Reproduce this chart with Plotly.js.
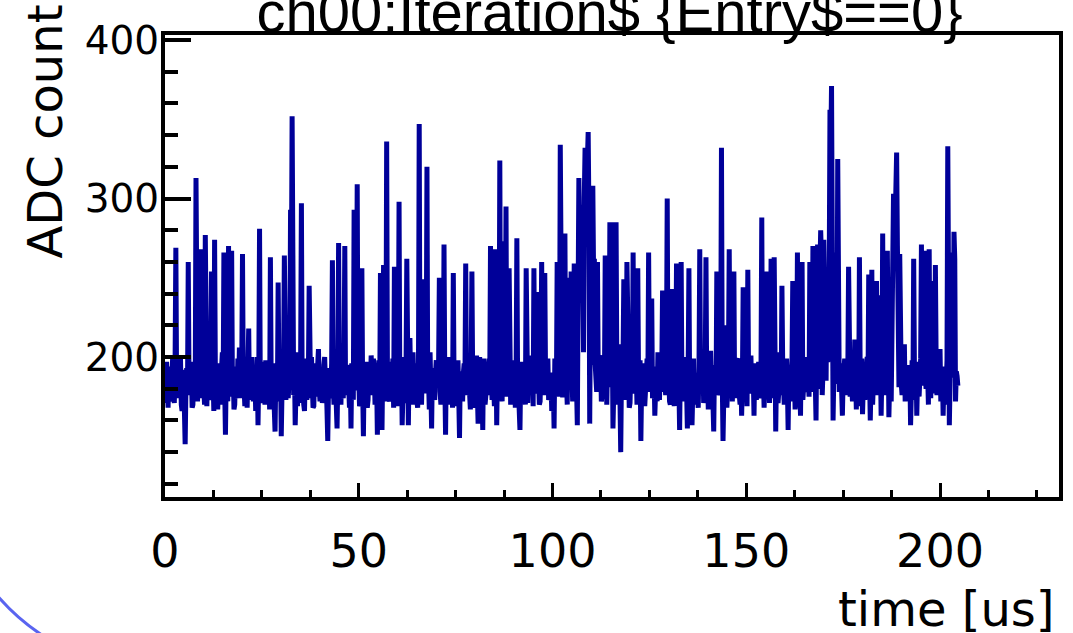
<!DOCTYPE html>
<html>
<head>
<meta charset="utf-8">
<script src="https://cdn.plot.ly/plotly-3.0.1.min.js"></script>
<style>
  html, body { margin: 0; padding: 0; background: #ffffff; }
  #plot { width: 1073px; height: 633px; }
</style>
</head>
<body>
<div id="plot"></div>
<script>
// Waveform of channel ch00, first entry: 1024 ADC samples, one every 0.2 us
var sampleStart = 0;      // us
var sampleStep = 0.2;     // us per sample
var adcCount = [
  182,171,197,185,168,194,190,172,176,189,201,178,171,196,269,180,186,199,174,187,199,170,166,192,188,167,145,181,193,176,260,184,
  178,190,194,168,170,197,185,179,313,183,172,201,198,174,268,188,266,192,180,170,277,184,169,198,192,173,176,195,254,178,187,166,
  274,186,183,195,167,182,196,170,179,193,203,176,266,180,151,189,188,172,270,185,175,198,267,178,193,167,170,194,186,174,199,181,
  206,177,174,192,265,183,181,169,197,186,168,199,218,173,184,195,200,180,172,191,189,166,177,200,157,188,281,176,194,182,171,197,
  186,170,198,181,175,193,190,167,263,184,169,196,182,175,153,190,195,172,247,186,178,199,150,179,188,194,264,182,173,189,201,174,
  184,196,293,240,352,188,176,194,157,178,192,169,203,183,171,198,297,176,187,170,166,191,199,173,180,187,245,181,174,200,190,168,
  169,193,196,175,183,198,205,180,172,190,188,171,177,195,200,184,185,167,147,182,193,174,178,196,261,185,170,199,189,172,155,187,
  272,179,186,170,199,184,174,197,270,176,181,193,195,182,168,188,155,196,190,173,293,185,179,200,309,183,187,169,171,194,256,180,
  150,191,184,175,197,168,173,195,189,179,201,186,176,199,192,170,182,188,151,183,198,174,253,190,154,197,258,178,185,172,336,187,
  190,174,172,197,186,181,199,168,257,185,178,193,169,189,298,176,188,200,157,184,195,171,181,192,262,179,157,195,212,182,184,170,
  203,187,175,196,191,172,168,184,347,180,183,170,194,186,249,199,177,190,320,178,186,167,203,181,155,193,190,176,173,189,198,183,
  181,194,250,178,170,188,195,173,271,185,151,197,187,170,200,182,176,199,192,168,253,179,184,193,169,186,198,175,149,191,185,172,
  172,190,196,183,259,176,180,198,189,171,167,192,254,185,193,168,178,189,201,177,158,195,200,174,186,181,154,199,194,170,175,187,
  188,176,199,184,270,190,173,197,185,169,268,182,157,194,192,179,324,186,181,172,273,199,176,188,295,175,187,193,256,181,170,196,
  196,173,182,198,168,186,275,180,190,167,154,191,197,176,179,195,188,170,256,184,171,193,201,178,184,200,193,169,256,187,177,192,
  241,181,186,170,172,195,260,185,191,176,253,188,180,197,199,173,175,190,188,166,169,184,155,199,194,178,260,192,183,175,334,200,
  190,176,176,193,278,184,185,170,250,198,197,180,254,189,172,195,259,174,188,181,157,226,313,271,245,288,296,262,203,301,332,318,
  305,327,342,290,158,240,195,286,308,251,262,196,183,178,260,187,191,200,201,172,176,194,187,183,264,176,170,198,193,181,285,190,
  285,195,155,178,188,170,285,192,174,186,208,175,140,189,185,199,249,173,179,184,260,196,196,168,171,191,190,180,266,177,183,194,
  192,170,256,187,175,198,147,183,189,176,196,169,181,192,199,180,266,188,178,197,237,174,186,190,163,185,194,172,203,181,173,196,
  185,193,242,178,197,184,176,199,300,181,188,172,170,195,243,186,191,169,182,190,259,177,199,183,154,196,260,175,187,200,172,188,
  194,179,155,190,256,173,183,196,157,185,199,170,178,187,190,176,168,194,268,182,186,199,201,171,175,189,263,178,192,167,180,193,
  204,182,189,171,153,195,184,176,254,188,197,180,176,194,332,186,147,175,220,191,190,168,178,197,268,183,185,200,172,189,254,174,
  193,186,181,198,199,176,170,190,163,184,244,172,188,199,195,169,255,183,177,194,201,178,186,188,163,196,192,173,179,187,197,181,
  174,192,288,177,190,168,183,196,254,180,198,187,171,193,262,174,187,199,263,182,153,190,203,171,179,186,194,176,245,195,185,170,
  176,194,199,183,154,191,188,172,181,198,248,179,195,167,172,188,266,176,190,184,163,197,260,173,184,190,197,181,178,200,189,175,
  260,190,183,198,270,178,194,185,160,196,271,180,188,255,280,262,176,191,274,240,192,185,256,197,200,250,356,330,371,266,160,190,
  266,240,187,183,325,271,178,192,196,170,163,186,190,199,184,176,199,188,257,181,175,196,189,172,202,185,211,178,167,194,193,169,
  263,187,181,199,164,182,195,173,186,193,200,178,252,190,160,185,255,170,190,196,177,184,248,176,194,188,239,201,163,192,278,180,
  188,196,176,183,267,190,162,185,197,172,245,268,303,258,285,296,329,270,192,181,265,199,183,176,201,190,208,172,179,186,195,178,
  185,192,157,180,198,173,262,190,177,197,163,186,191,175,184,199,271,182,196,226,267,188,180,194,189,170,268,185,174,200,248,183,
  191,177,258,196,176,188,199,181,205,172,183,193,163,184,194,170,178,198,333,255,157,186,266,190,187,200,279,262,172,191,188,182
];

var xTickVals = [0, 50, 100, 150, 200];
var yTickVals = [200, 300, 400];
var chartTitle = 'ch00:Iteration$ {Entry$==0}';
var xTitle = 'time [us]';
var yTitle = 'ADC count';

var trace = {
  type: 'scatter',
  mode: 'lines',
  x0: sampleStart,
  dx: sampleStep,
  y: adcCount,
  line: { color: '#000099', width: 5 },
  hoverinfo: 'skip'
};

var tickFontX = { family: 'DejaVu Sans, Verdana, sans-serif', size: 46, color: '#000000' };
var tickFontY = { family: 'DejaVu Sans, Verdana, sans-serif', size: 39, color: '#000000' };
var labelFont = { family: 'DejaVu Sans, Verdana, sans-serif', size: 48, color: '#000000' };

var layout = {
  width: 1073,
  height: 633,
  margin: { l: 165, r: 14, t: 35, b: 136, pad: 0 },
  paper_bgcolor: '#ffffff',
  plot_bgcolor: '#ffffff',
  showlegend: false,
  title: {
    text: chartTitle,
    font: { family: 'Liberation Sans, Arial, Helvetica, sans-serif', size: 58, color: '#000000' },
    xref: 'container', yref: 'container',
    x: 609.5 / 1073, xanchor: 'center',
    y: 1 - 32 / 633, yanchor: 'bottom'
  },
  xaxis: {
    range: [0, 230.7],
    tickmode: 'array',
    tickvals: xTickVals,
    ticktext: xTickVals.map(String),
    ticks: 'inside', ticklen: 14, tickwidth: 3, tickcolor: '#000000',
    minor: { dtick: 12.5, tick0: 0, ticks: 'inside', ticklen: 7, tickwidth: 3, tickcolor: '#000000', showgrid: false },
    showline: true, linewidth: 4, linecolor: '#000000', mirror: true,
    showgrid: false, zeroline: false,
    tickfont: tickFontX,
    ticklabelstandoff: 11
  },
  yaxis: {
    range: [111.7, 403.2],
    tickmode: 'array',
    tickvals: yTickVals,
    ticktext: yTickVals.map(String),
    ticks: 'inside', ticklen: 26, tickwidth: 4, tickcolor: '#000000',
    minor: { dtick: 20, tick0: 0, ticks: 'inside', ticklen: 13, tickwidth: 4, tickcolor: '#000000', showgrid: false },
    showline: true, linewidth: 4, linecolor: '#000000', mirror: true,
    showgrid: false, zeroline: false,
    tickfont: tickFontY,
    ticklabelstandoff: -6
  },
  annotations: [
    {
      text: yTitle, font: labelFont, textangle: -90,
      xref: 'paper', yref: 'paper',
      x: (44 - 165) / 894, y: (497 - 131.5) / 462,
      xanchor: 'center', yanchor: 'middle', showarrow: false
    },
    {
      text: xTitle, font: labelFont,
      xref: 'paper', yref: 'paper',
      x: (1057 - 165) / 894, y: (497 - 609) / 462,
      xanchor: 'right', yanchor: 'middle', showarrow: false
    }
  ],
  shapes: [
    {
      type: 'path', xref: 'paper', yref: 'paper', layer: 'above',
      path: 'M -0.19016,-0.20779 Q -0.16611,-0.26407 -0.13423,-0.30303',
      line: { color: '#5a64f0', width: 3 }
    }
  ]
};

Plotly.newPlot('plot', [trace], layout, { displayModeBar: false, staticPlot: true });
</script>
</body>
</html>
